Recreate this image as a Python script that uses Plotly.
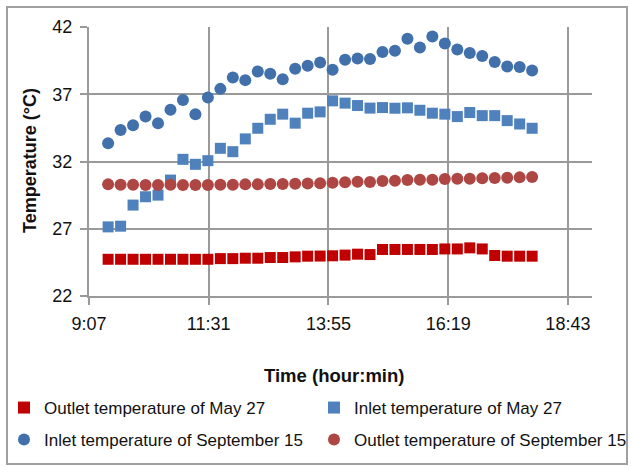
import plotly.graph_objects as go

# ---------------- data ----------------
times = ["9:30", "9:45", "10:00", "10:15", "10:30", "10:45", "11:00", "11:15", "11:30",
         "11:45", "12:00", "12:15", "12:30", "12:45", "13:00", "13:15", "13:30", "13:45",
         "14:00", "14:15", "14:30", "14:45", "15:00", "15:15", "15:30", "15:45", "16:00",
         "16:15", "16:30", "16:45", "17:00", "17:15", "17:30", "17:45", "18:00"]

outlet_may27 = [24.73, 24.73, 24.73, 24.73, 24.73, 24.73, 24.73, 24.73, 24.73,
                24.78, 24.78, 24.81, 24.81, 24.86, 24.86, 24.91, 24.96, 24.97,
                24.99, 25.04, 25.11, 25.08, 25.46, 25.46, 25.46, 25.46, 25.46,
                25.50, 25.50, 25.58, 25.50, 25.01, 24.96, 24.96, 24.96]

inlet_may27 = [27.14, 27.19, 28.76, 29.38, 29.50, 30.62, 32.16, 31.79, 32.06,
               32.98, 32.73, 33.68, 34.47, 35.14, 35.52, 34.85, 35.59, 35.69,
               36.51, 36.34, 36.16, 35.97, 36.01, 35.96, 35.99, 35.81, 35.59,
               35.52, 35.34, 35.64, 35.41, 35.41, 35.04, 34.79, 34.47]

inlet_sep15 = [33.36, 34.35, 34.70, 35.34, 34.85, 35.84, 36.58, 35.52, 36.75,
               37.40, 38.24, 38.05, 38.69, 38.52, 38.12, 38.89, 39.12, 39.36,
               38.82, 39.56, 39.66, 39.62, 40.14, 40.23, 41.13, 40.48, 41.30,
               40.78, 40.33, 40.06, 39.84, 39.39, 39.06, 39.02, 38.77]

outlet_sep15 = [30.30, 30.27, 30.27, 30.25, 30.25, 30.27, 30.25, 30.25, 30.25,
                30.27, 30.27, 30.30, 30.30, 30.32, 30.32, 30.35, 30.37, 30.39,
                30.42, 30.45, 30.49, 30.48, 30.55, 30.57, 30.62, 30.65, 30.65,
                30.70, 30.72, 30.72, 30.75, 30.77, 30.80, 30.82, 30.85]

x_tick_labels = ["9:07", "11:31", "13:55", "16:19", "18:43"]
x_axis_end = "19:12"
y_tick_values = [22, 27, 32, 37, 42]
x_title = "Time (hour:min)"
y_title = "Temperature (°C)"


def to_min(s):
    h, m = s.split(":")
    return int(h) * 60 + int(m)


x = [to_min(t) for t in times]
x_tickvals = [to_min(t) for t in x_tick_labels]

FONT = "Liberation Sans"
GRID = "#9a9a9a"
W, H = 631, 467
L, R, T, B = 89, 39, 27, 171
PW, PH = W - L - R, H - T - B

fig = go.Figure()
fig.add_trace(go.Scatter(x=x, y=outlet_may27, mode="markers", name="Outlet temperature of May 27",
                         marker=dict(symbol="square", size=11, color="#C00000"), legend="legend"))
fig.add_trace(go.Scatter(x=x, y=inlet_may27, mode="markers", name="Inlet temperature of May 27",
                         marker=dict(symbol="square", size=11, color="#4F81BD"), legend="legend2"))
fig.add_trace(go.Scatter(x=x, y=inlet_sep15, mode="markers", name="Inlet temperature of September 15",
                         marker=dict(symbol="circle", size=12, color="#4170AA"), legend="legend3"))
fig.add_trace(go.Scatter(x=x, y=outlet_sep15, mode="markers", name="Outlet temperature of September 15",
                         marker=dict(symbol="circle", size=12, color="#AE4744"), legend="legend4"))

legend_common = dict(orientation="v", xref="container", yref="container",
                     xanchor="left", yanchor="middle",
                     font=dict(family=FONT, size=17, color="#111"), itemsizing="constant",
                     bgcolor="rgba(0,0,0,0)")

col1, col2 = 4 / W, 314 / W
row1, row2 = (H - 408) / H, (H - 440) / H

fig.update_layout(
    template="none",
    width=W, height=H,
    margin=dict(l=L, r=R, t=T, b=B, autoexpand=False),
    paper_bgcolor="white", plot_bgcolor="white",
    font=dict(family=FONT, size=18, color="#111"),
    showlegend=True,
    legend=dict(x=col1, y=row1, **legend_common),
    legend2=dict(x=col2, y=row1, **legend_common),
    legend3=dict(x=col1, y=row2, **legend_common),
    legend4=dict(x=col2, y=row2, **legend_common),
    xaxis=dict(range=[x_tickvals[0], to_min(x_axis_end)], tickvals=x_tickvals, ticktext=x_tick_labels,
               showgrid=True, gridcolor=GRID, gridwidth=2, automargin=False,
               showline=True, linecolor=GRID, linewidth=2,
               ticks="outside", ticklen=7, tickwidth=2, tickcolor=GRID,
               ticklabelstandoff=3, zeroline=False),
    yaxis=dict(range=[22, 42], tickvals=y_tick_values,
               showgrid=True, gridcolor=GRID, gridwidth=2, automargin=False,
               showline=True, linecolor=GRID, linewidth=2,
               ticks="outside", ticklen=7, tickwidth=2, tickcolor=GRID,
               ticklabelstandoff=4, zeroline=False),
    annotations=[
        dict(text=f"<b>{x_title}</b>", xref="paper", yref="paper",
             x=(334 - L) / PW, y=(H - B - 375) / PH, showarrow=False,
             xanchor="center", yanchor="middle", font=dict(size=18.5, color="#111")),
        dict(text=f"<b>{y_title}</b>", xref="paper", yref="paper", textangle=-90,
             x=(30 - L) / PW, y=(H - B - 161) / PH, showarrow=False,
             xanchor="center", yanchor="middle", font=dict(size=18, color="#111")),
    ],
    shapes=[dict(type="rect", xref="paper", yref="paper",
                 x0=(7 - L) / PW, x1=(627 - L) / PW, y0=(H - B - 464) / PH, y1=(H - B - 7) / PH,
                 line=dict(color="#a0a0a0", width=2), fillcolor="rgba(0,0,0,0)", layer="above")],
)

fig.write_html("out.html", config={"displayModeBar": False},
               post_script="document.body.style.margin='0';")
